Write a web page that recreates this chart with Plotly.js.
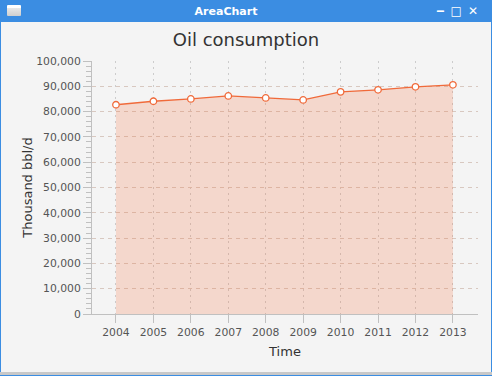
<!DOCTYPE html>
<html>
<head>
<meta charset="utf-8">
<script src="https://cdn.plot.ly/plotly-3.0.1.min.js"></script>
<style>
  html, body { margin: 0; padding: 0; width: 492px; height: 376px; overflow: hidden; background: #f4f4f4; font-family: "DejaVu Sans", sans-serif; }
  #chart { position: absolute; left: 0; top: 0; width: 492px; height: 376px; }
  #titlebar { position: absolute; left: 0; top: 0; width: 492px; height: 22px; background: #3b8de2; color: #fff; font-weight: bold; font-size: 11px; z-index: 5; }
  #titlebar .t { position: absolute; left: 0; width: 452px; top: 5px; text-align: center; }
  #icon { position: absolute; left: 7px; top: 5px; width: 14px; height: 11px; background: linear-gradient(#ffffff 0 3px, #e8e8e8 3px, #cfcfcf); border-radius: 1px; }
  #btns { position: absolute; right: 8px; top: 4px; font-size: 12px; letter-spacing: 6px; }
  #lb { position: absolute; left: 0; top: 22px; width: 1px; height: 354px; background: #3b8de2; z-index: 5; }
  #rb { position: absolute; right: 0; top: 22px; width: 1px; height: 354px; background: #3b8de2; z-index: 5; }
  #bb { position: absolute; left: 0; top: 372px; width: 492px; height: 3px; background: #c8c8c8; z-index: 5; }
  #bb2 { position: absolute; left: 0; top: 375px; width: 492px; height: 1px; background: #3b8de2; z-index: 5; }
</style>
</head>
<body>
<div id="chart"></div>
<div id="titlebar"><div id="icon"></div><div class="t">AreaChart</div><div id="btns">&#8210;&#9633;&#10005;</div></div>
<div id="lb"></div><div id="rb"></div><div id="bb"></div><div id="bb2"></div>
<script>
const years = [2004, 2005, 2006, 2007, 2008, 2009, 2010, 2011, 2012, 2013];
const consumption = [82700, 84100, 85000, 86200, 85400, 84600, 87800, 88600, 89800, 90600];
const yTicks = [0, 10000, 20000, 30000, 40000, 50000, 60000, 70000, 80000, 90000, 100000];
const yTickText = ["0", "10,000", "20,000", "30,000", "40,000", "50,000", "60,000", "70,000", "80,000", "90,000", "100,000"];

const orange = "#f3622d";
const trace = {
  x: years, y: consumption, type: "scatter", mode: "lines+markers",
  fill: "tozeroy", fillcolor: "rgba(243,98,45,0.2)",
  line: { color: "#f06a3a", width: 1.3 },
  marker: { symbol: "circle", size: 6.5, color: "#ffffff", line: { color: "#f06a3a", width: 1.3 } },
  hoverinfo: "skip", showlegend: false
};

const layout = {
  width: 492, height: 376,
  paper_bgcolor: "#f4f4f4", plot_bgcolor: "#f4f4f4",
  margin: { l: 92, r: 14, t: 61, b: 62 },
  font: { family: "DejaVu Sans, sans-serif", color: "#333333" },
  title: { text: "Oil consumption", font: { size: 18, color: "#333333" }, x: 0.5, xanchor: "center", y: 1 - 40 / 376, yanchor: "middle" },
  xaxis: {
    range: [2003.36, 2013.67], tickvals: years, ticktext: years.map(String),
    showline: true, linecolor: "#c0c0c0", linewidth: 1,
    ticks: "outside", ticklen: 8, tickcolor: "#c0c0c0",
    tickfont: { size: 10.8, color: "#555555" },
    showgrid: true, gridcolor: "#cccccc", griddash: "2px,4px", gridwidth: 1,
    zeroline: false,
    title: { text: "Time", font: { size: 13, color: "#333333" }, standoff: 8 }
  },
  yaxis: {
    range: [0, 100000], tickvals: yTicks, ticktext: yTickText,
    showline: true, linecolor: "#c0c0c0", linewidth: 1,
    ticks: "outside", ticklen: 8, tickcolor: "#c0c0c0",
    tickfont: { size: 10.8, color: "#555555" },
    showgrid: true, gridcolor: "#d8c8c0", griddash: "4px,4px", gridwidth: 1,
    zeroline: false,
    minor: { dtick: 2000, ticks: "outside", ticklen: 5, tickcolor: "#c0c0c0", showgrid: false },
    title: { text: "Thousand bbl/d", font: { size: 13, color: "#333333" }, standoff: 0 }
  }
};

Plotly.newPlot("chart", [trace], layout, { displayModeBar: false, staticPlot: true });
</script>
</body>
</html>
